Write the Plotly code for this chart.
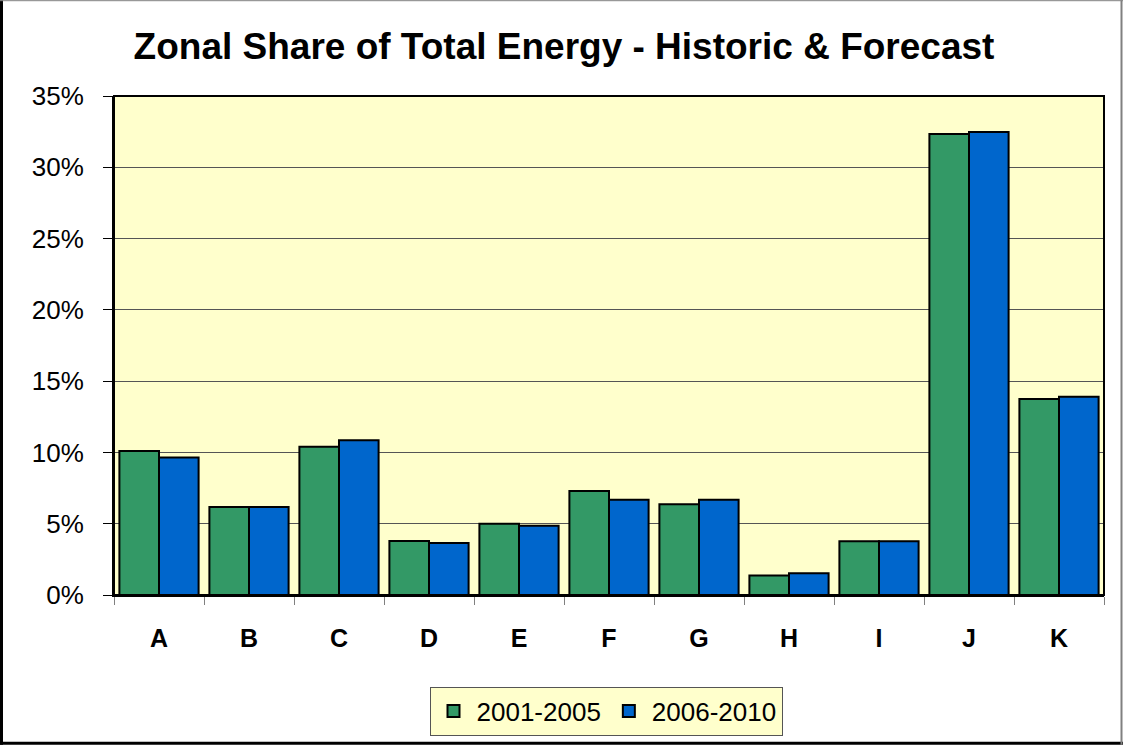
import plotly.graph_objects as go

# ─── Data ─────────────────────────────────────────────────────────────────────
ZONES = ["A", "B", "C", "D", "E", "F", "G", "H", "I", "J", "K"]
HIST_2001_2005 = [10.1, 6.17, 10.4, 3.78, 5.0, 7.3, 6.36, 1.37, 3.77, 32.34, 13.74]
FCST_2006_2010 = [9.65, 6.17, 10.85, 3.64, 4.86, 6.68, 6.68, 1.53, 3.77, 32.48, 13.9]
SERIES_NAMES = ["2001-2005", "2006-2010"]
Y_TICKS = [0, 5, 10, 15, 20, 25, 30, 35]

COLORS = {"green": "#339966", "blue": "#0066CC", "plot_bg": "#FFFFCC"}
FONT = "Liberation Sans, Arial, sans-serif"

W, H = 1123, 746
L, R, T, B = 114, 19, 96, 150
PW, PH = W - L - R, H - T - B

fig = go.Figure()
for name, vals, col in [
    (SERIES_NAMES[0], HIST_2001_2005, COLORS["green"]),
    (SERIES_NAMES[1], FCST_2006_2010, COLORS["blue"]),
]:
    fig.add_trace(go.Bar(
        x=ZONES, y=vals, name=name,
        marker=dict(color=col, line=dict(color="#000000", width=2)),
    ))


# pixel -> paper coords (relative to plot area)
def px_x(v):
    return (v - L) / PW


def px_y(v):
    return (H - B - v) / PH


# outer frame: black left/bottom, grey top/right
frame = [
    (1.5, 0, 1.5, H, "#000000", 3),
    (0, H - 1.5, W, H - 1.5, "#000000", 3),
    (0, 0.5, W, 0.5, "#808080", 1),
    (W - 1.5, 0, W - 1.5, H, "#808080", 2),
]
shapes = [
    dict(type="line", xref="paper", yref="paper",
         x0=px_x(a), y0=px_y(b), x1=px_x(c), y1=px_y(d),
         line=dict(color=col, width=w))
    for a, b, c, d, col, w in frame
]

fig.update_layout(
    width=W, height=H,
    margin=dict(l=L, r=R, t=T, b=B),
    paper_bgcolor="#FFFFFF",
    plot_bgcolor=COLORS["plot_bg"],
    font=dict(family=FONT, color="#000000"),
    title=dict(
        text="<b>Zonal Share of Total Energy - Historic & Forecast</b>",
        x=px_x(564), xref="paper", y=1 - 46 / H, yref="container",
        xanchor="center", yanchor="middle",
        font=dict(size=37, color="#000000"),
    ),
    barmode="group",
    bargap=0.12,
    bargroupgap=0,
    xaxis=dict(
        tickfont=dict(size=25, family=FONT, weight="bold"),
        ticks="outside", tickson="boundaries", ticklen=8, tickcolor="#808080",
        ticklabelstandoff=20,
        showline=True, linecolor="#000000", linewidth=2,
        showgrid=False,
    ),
    yaxis=dict(
        range=[0, 35],
        tickvals=Y_TICKS,
        ticktext=[f"{v}%" for v in Y_TICKS],
        tickfont=dict(size=26),
        ticks="outside", ticklen=9, tickcolor="#000000",
        ticklabelstandoff=14,
        showline=True, linecolor="#000000", linewidth=2,
        gridcolor="#555555", gridwidth=1,
        zeroline=False,
    ),
    legend=dict(
        orientation="h",
        x=px_x(606), y=px_y(711),
        xanchor="center", yanchor="middle",
        bgcolor=COLORS["plot_bg"], bordercolor="#555555", borderwidth=1,
        font=dict(size=26, color="#000000"),
        itemwidth=36,
    ),
    shapes=shapes,
)

# plot-area border
fig.add_shape(type="rect", xref="paper", yref="paper", x0=0, y0=0, x1=1, y1=1,
              line=dict(color="#000000", width=2), layer="above")

fig.write_html("out.html", config={"displayModeBar": False},
               post_script="document.body.style.margin='0';")
